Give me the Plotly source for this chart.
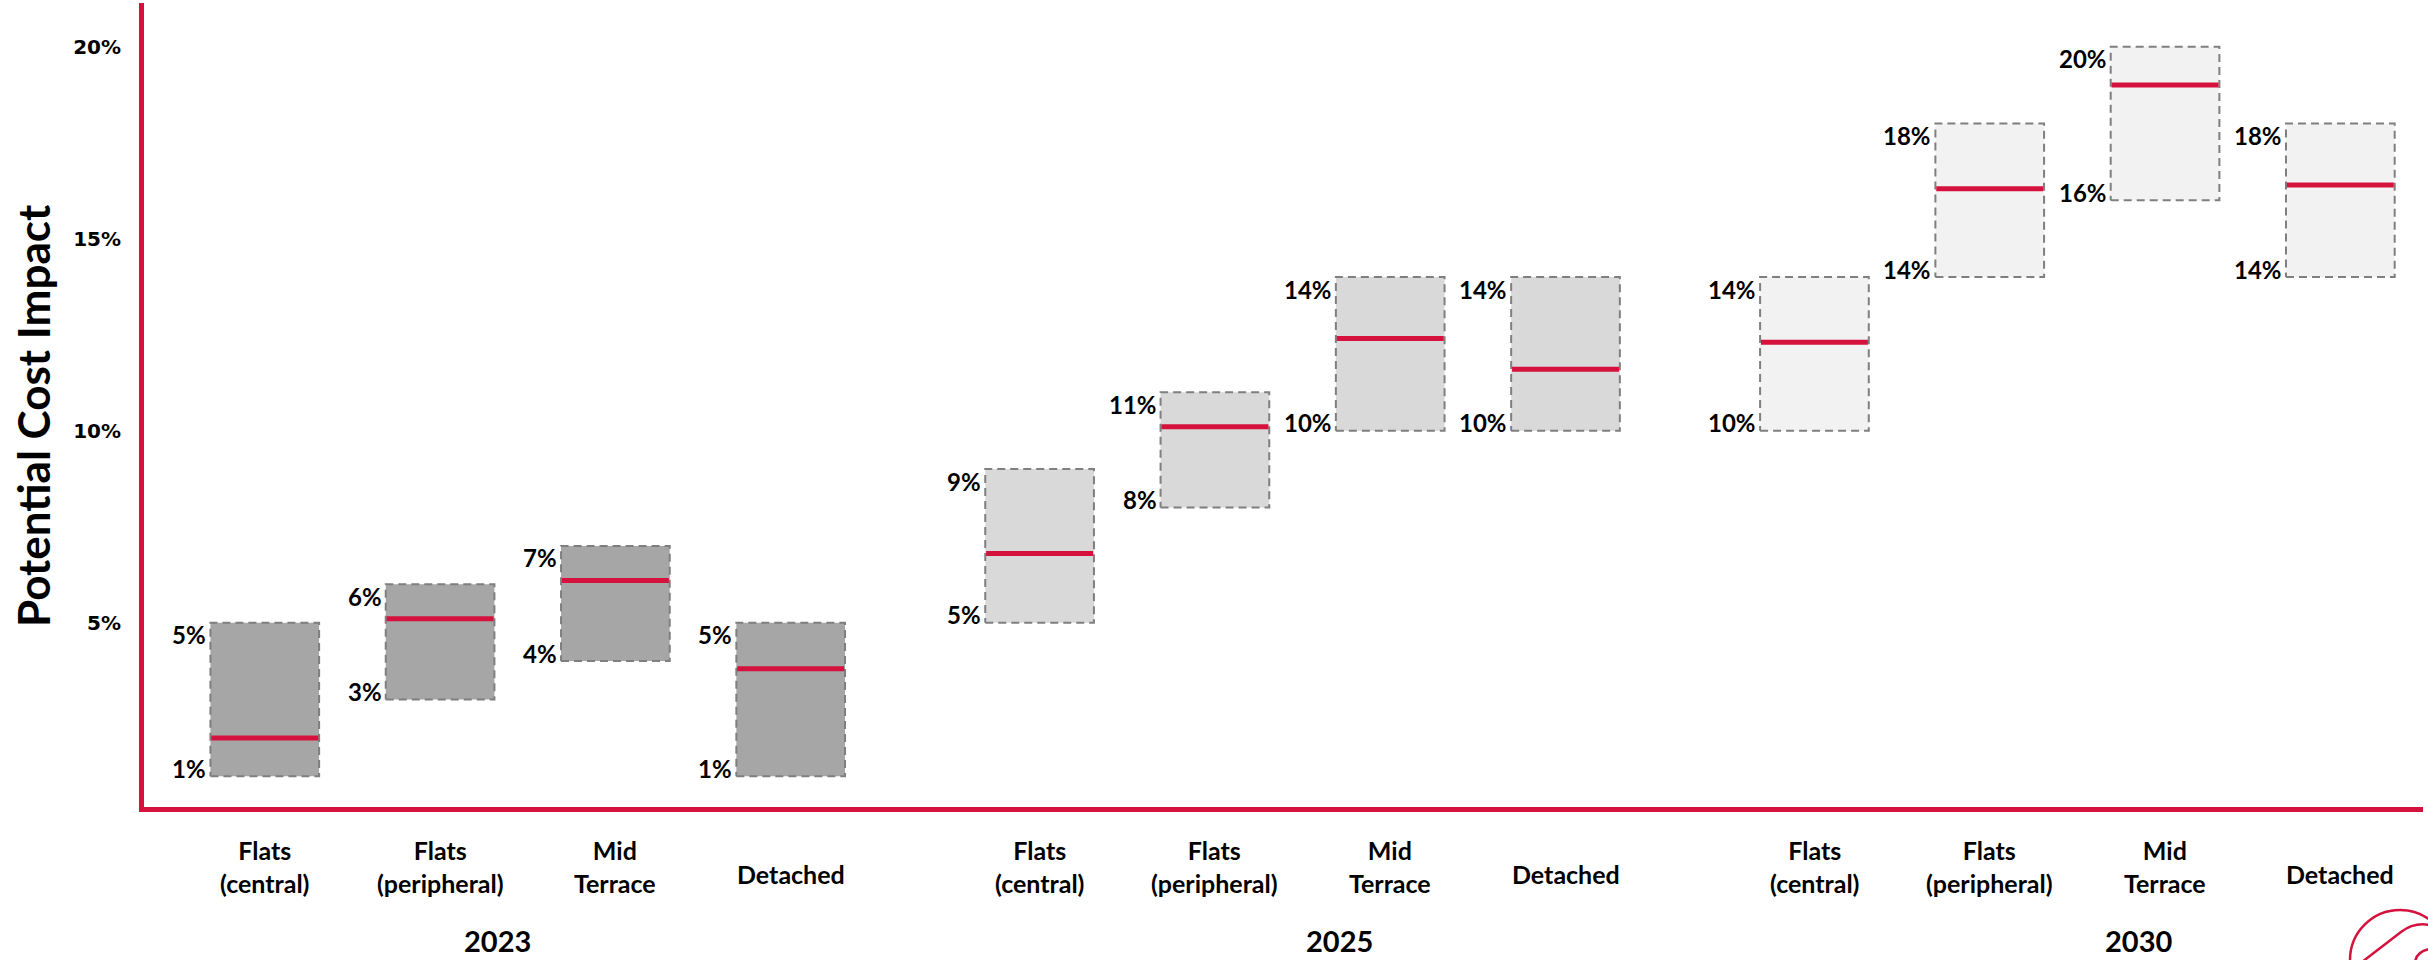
import plotly.graph_objects as go

# ---- data -------------------------------------------------------------
years = ["2023", "2025", "2030"]
dwelling_types = ["Flats<br>(central)", "Flats<br>(peripheral)", "Mid<br>Terrace", "Detached"]

# cost-impact ranges (%) per dwelling type: low end, high end, central estimate
low_2023 = [1, 3, 4, 1]
high_2023 = [5, 6, 7, 5]
mid_2023 = [2.0, 5.1, 6.1, 3.8]

low_2025 = [5, 8, 10, 10]
high_2025 = [9, 11, 14, 14]
mid_2025 = [6.8, 10.1, 12.4, 11.6]

low_2030 = [10, 14, 16, 14]
high_2030 = [14, 18, 20, 18]
mid_2030 = [12.3, 16.3, 19.0, 16.4]

y_ticks = [5, 10, 15, 20]
y_tick_labels = ["5%", "10%", "15%", "20%"]

# ---- styling / layout constants ---------------------------------------
RED = "#D5123D"
BORDER = "#7F7F7F"
FILLS = ["#A6A6A6", "#D9D9D9", "#F2F2F2"]
GROUP_STEP = 4.42          # slot distance between the start of each year group
BOX_W = 0.62               # box width in slot units
YEAR_LABEL_OFFSET = [-0.175, 0.21, 0.35]
LABEL_FONT = "Lato, 'Open Sans', sans-serif"
TICK_FONT = "'DejaVu Sans', Verdana, sans-serif"

W, H = 2428, 960
M_L, M_R, M_T, M_B = 144, 5, 3, 153
PLOT_W = W - M_L - M_R
PLOT_H = H - M_T - M_B


def px_x(px):
    """Horizontal page pixel -> paper fraction."""
    return (px - M_L) / PLOT_W


def px_y(py):
    """Vertical page pixel -> paper fraction."""
    return (H - M_B - py) / PLOT_H


groups = [
    (low_2023, high_2023, mid_2023),
    (low_2025, high_2025, mid_2025),
    (low_2030, high_2030, mid_2030),
]

fig = go.Figure()
annotations = []

for g, (lows, highs, mids) in enumerate(groups):
    for i, name in enumerate(dwelling_types):
        xc = g * GROUP_STEP + i
        x0, x1 = xc - BOX_W / 2, xc + BOX_W / 2
        lo, hi, md = lows[i], highs[i], mids[i]

        # range box
        fig.add_trace(go.Scatter(
            x=[x0, x1, x1, x0, x0], y=[lo, lo, hi, hi, lo],
            mode="lines", fill="toself", fillcolor=FILLS[g],
            line=dict(color=BORDER, width=2, dash="8px,5px"),
            hoverinfo="skip", showlegend=False,
        ))
        # central estimate
        fig.add_trace(go.Scatter(
            x=[x0 + 0.005, x1 - 0.005], y=[md, md], mode="lines",
            line=dict(color=RED, width=5),
            hovertemplate=f"{years[g]} {name.replace('<br>', ' ')}: %{{y:.1f}}%<extra></extra>",
            showlegend=False,
        ))

        # low / high value labels, left of the box
        for val, shift in ((hi, -12), (lo, 8)):
            annotations.append(dict(
                x=x0, y=val, xref="x", yref="y", text=f"<b>{val}%</b>",
                xanchor="right", yanchor="middle", xshift=-2, yshift=shift,
                showarrow=False, font=dict(family=LABEL_FONT, size=24, color="#000"),
            ))

        # dwelling type label under the axis
        two_line = "<br>" in name
        annotations.append(dict(
            x=xc, y=px_y(866 if two_line else 874), xref="x", yref="paper",
            text=f"<b>{name}</b>", xanchor="center", yanchor="middle",
            showarrow=False, font=dict(family=LABEL_FONT, size=25, color="#000"),
        ))

    # year label
    annotations.append(dict(
        x=g * GROUP_STEP + 1.5 + YEAR_LABEL_OFFSET[g], y=px_y(940),
        xref="x", yref="paper", text=f"<b>{years[g]}</b>",
        xanchor="center", yanchor="middle", showarrow=False,
        font=dict(family=LABEL_FONT, size=29, color="#000"),
    ))

# axis title
annotations.append(dict(
    x=px_x(33), y=px_y(416), xref="paper", yref="paper",
    text="<b>Potential Cost Impact</b>", textangle=-90,
    xanchor="center", yanchor="middle", showarrow=False,
    font=dict(family=LABEL_FONT, size=44, color="#000"),
))

# corner logo mark
shapes = [
    dict(type="circle", xref="paper", yref="paper",
         x0=px_x(2350), x1=px_x(2450), y0=px_y(1010), y1=px_y(910),
         line=dict(color=RED, width=2.5)),
    dict(type="path", xref="paper", yref="paper",
         path=(f"M {px_x(2362)},{px_y(962)} L {px_x(2401)},{px_y(932)} "
               f"Q {px_x(2414)},{px_y(922)} {px_x(2430)},{px_y(925)}"),
         line=dict(color=RED, width=2.5)),
    dict(type="path", xref="paper", yref="paper",
         path=(f"M {px_x(2415)},{px_y(962)} Q {px_x(2417)},{px_y(951)} "
               f"{px_x(2430)},{px_y(949)}"),
         line=dict(color=RED, width=2.5)),
]

x_left = -0.689
x_right = x_left + PLOT_W / 175.3
y_bottom = 0.2
y_top = y_bottom + PLOT_H / 38.4

fig.update_layout(
    width=W, height=H,
    margin=dict(l=M_L, r=M_R, t=M_T, b=M_B),
    paper_bgcolor="white", plot_bgcolor="white",
    annotations=annotations, shapes=shapes,
    xaxis=dict(range=[x_left, x_right], showgrid=False, zeroline=False,
               showticklabels=False, ticks="", showline=True,
               linecolor=RED, linewidth=5),
    yaxis=dict(range=[y_bottom, y_top], showgrid=False, zeroline=False,
               tickvals=y_ticks, ticktext=y_tick_labels, ticks="",
               ticklabelstandoff=14, showline=True, linecolor=RED, linewidth=5,
               tickfont=dict(family=TICK_FONT, size=20, color="#000", weight="bold")),
    showlegend=False,
)

fig.write_html("out.html")
